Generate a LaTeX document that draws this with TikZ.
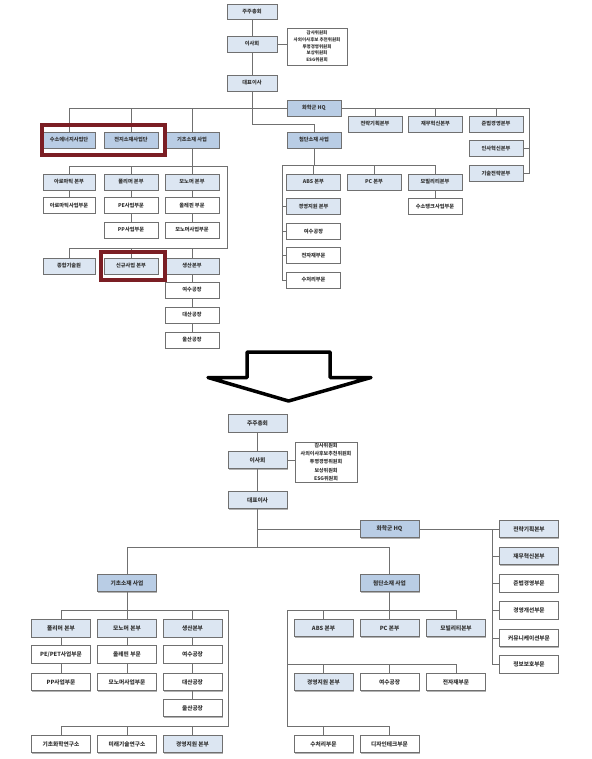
\documentclass[tikz,border=0pt]{standalone}
\usepackage{fontspec}
\newfontfamily\kr{Noto Sans CJK KR}
\usetikzlibrary{shadows}
\definecolor{lb}{HTML}{DCE6F2}
\definecolor{db}{HTML}{B9CDE5}
\definecolor{bd}{HTML}{707070}
\definecolor{ln}{HTML}{707070}
\definecolor{rf}{HTML}{7B1E24}
\begin{document}
\begin{tikzpicture}[x=1pt,y=-1pt,
  box/.style={draw=bd, line width=0.6pt, inner sep=0pt, minimum width=54pt, minimum height=16pt,
    align=center, font=\kr\bfseries\fontsize{5.2}{6}\selectfont, text=black!80,
    drop shadow={shadow xshift=0.8pt, shadow yshift=-0.8pt, fill=black!30, opacity=1}},
  lbox/.style={box, fill=lb},
  dbox/.style={box, fill=db},
  wbox/.style={box, fill=white},
  bigb/.style={minimum width=59pt, minimum height=17.5pt, font=\kr\bfseries\fontsize{5.7}{6.5}\selectfont},
  conn/.style={draw=ln, line width=0.7pt},
  redframe/.style={draw=rf, line width=3.8pt}]
\fill[white] (0,0) rectangle (591,759);
\useasboundingbox (0,0) rectangle (591,759);

% ================= TOP (before) =================
\node[lbox, minimum width=50pt, minimum height=15pt] (T_agm) at (252,11.5) {주주총회};
\node[lbox, minimum width=50pt] (T_board) at (252,44) {이사회};
\node[wbox, minimum width=60pt, minimum height=37pt, font=\kr\bfseries\fontsize{4.5}{6.7}\selectfont] (T_comm) at (317,46.5)
  {감사위원회\\사외이사후보 추천위원회\\투명경영위원회\\보상위원회\\ESG위원회};
\node[lbox, minimum width=50pt] (T_ceo) at (252,83) {대표이사};
\node[dbox] (T_hq) at (314,108) {화학군 HQ};
\node[dbox, minimum width=52pt] (T_h1) at (69,140) {수소에너지사업단};
\node[dbox] (T_h2) at (131,140) {전지소재사업단};
\node[dbox] (T_base) at (192,140) {기초소재 사업};
\node[dbox] (T_adv) at (314,140) {첨단소재 사업};
\node[lbox] (T_s1) at (375,124) {전략기획본부};
\node[lbox] (T_s2) at (435.5,124) {재무혁신본부};
\node[lbox] (T_s3) at (496,124) {준법경영본부};
\node[lbox] (T_s4) at (496,148.5) {인사혁신본부};
\node[lbox] (T_s5) at (496,173.5) {기술전략본부};

\node[lbox, minimum width=52pt] (T_a1) at (69,182) {아로마틱 본부};
\node[lbox] (T_a2) at (131,182) {폴리머 본부};
\node[lbox] (T_a3) at (192,182) {모노머 본부};
\node[wbox, minimum width=52pt] (T_b1) at (69,205.5) {아로마틱사업부문};
\node[wbox] (T_b2) at (131,205.5) {PE사업부문};
\node[wbox] (T_b3) at (192,205.5) {올레핀 부문};
\node[wbox] (T_c2) at (131,230) {PP사업부문};
\node[wbox] (T_c3) at (192,230) {모노머사업부문};
\node[lbox, minimum width=52pt] (T_d1) at (69,266) {종합기술원};
\node[lbox] (T_d2) at (131,266) {신규사업 본부};
\node[lbox] (T_d3) at (192,266) {생산본부};
\node[wbox] (T_p1) at (192,290) {여수공장};
\node[wbox] (T_p2) at (192,315) {대산공장};
\node[wbox] (T_p3) at (192,340) {울산공장};

\node[lbox] (T_e1) at (313.5,182) {ABS 본부};
\node[lbox] (T_e2) at (374,182) {PC 본부};
\node[lbox] (T_e3) at (435,182) {모빌리티본부};
\node[wbox] (T_e4) at (435,206.5) {수소탱크사업부문};
\node[lbox] (T_f1) at (313.5,206.5) {경영지원 본부};
\node[wbox] (T_f2) at (313.5,231.5) {여수공장};
\node[wbox] (T_f3) at (313.5,255.5) {전자재부문};
\node[wbox] (T_f4) at (313.5,280) {수처리부문};

% top connectors
\draw[conn] (T_agm.south) -- (T_board.north);
\draw[conn] (T_board.south) -- (T_ceo.north);
\draw[conn] (T_board.east) -- (T_board.east -| T_comm.west);
\coordinate (tA) at (252,124);
\draw[conn] (T_ceo.south) -- (tA) -| (T_adv.north);
\draw[conn] (T_h1.north) |- (T_hq.west);
\draw[conn] (T_h2.north) -- (T_h2.north |- T_hq.west);
\draw[conn] (T_base.north) -- (T_base.north |- T_hq.west);
\coordinate (tR) at (529,108);
\draw[conn] (T_hq.east) -- (tR) |- (T_s5.east);
\draw[conn] (T_s4.east) -- (T_s4.east -| tR);
\foreach \n in {T_s1,T_s2,T_s3} \draw[conn] (\n.north) -- (\n.north |- tR);

\coordinate (bL) at (69,166); \coordinate (bR) at (227,166);
\coordinate (bL2) at (69,248); \coordinate (bR2) at (227,248);
\draw[conn] (T_base.south) -- (T_base.south |- bL);
\draw[conn] (T_a1.north) -- (bL) -- (bR) -- (bR2) -- (bL2) -- (T_d1.north);
\foreach \n in {T_a2,T_a3} \draw[conn] (\n.north) -- (\n.north |- bL);
\foreach \n in {T_d2,T_d3} \draw[conn] (\n.north) -- (\n.north |- bL2);
\draw[conn] (T_a1) -- (T_b1);
\draw[conn] (T_a2) -- (T_b2); \draw[conn] (T_b2) -- (T_c2);
\draw[conn] (T_a3) -- (T_b3); \draw[conn] (T_b3) -- (T_c3);
\draw[conn] (T_d3) -- (T_p1); \draw[conn] (T_p1) -- (T_p2); \draw[conn] (T_p2) -- (T_p3);

\coordinate (aL) at (282,165); \coordinate (aR) at (435,165);
\draw[conn] (T_adv.south) -- (T_adv.south |- aL);
\draw[conn] (T_f4.west) -| (aL) -- (aR) -- (T_e3.north);
\foreach \n in {T_e1,T_e2} \draw[conn] (\n.north) -- (\n.north |- aL);
\foreach \n in {T_f1,T_f2,T_f3} \draw[conn] (\n.west) -- (\n.west -| aL);
\draw[conn] (T_e3) -- (T_e4);

% red frames
\draw[redframe] (42,125) rectangle (165,155);
\draw[redframe] (101,252) rectangle (165,280);

% ================= ARROW =================
\draw[line width=3.5pt, line join=round, fill=white]
  (247,352) -- (330,352) -- (330,377.5) -- (371,377.5) -- (288.5,401) -- (208,377.5) -- (247,377.5) -- cycle;

% ================= BOTTOM (after) =================
\node[lbox,bigb] (B_agm) at (257.5,423.5) {주주총회};
\node[lbox,bigb] (B_board) at (257.5,460) {이사회};
\node[wbox, minimum width=62pt, minimum height=40pt, font=\kr\bfseries\fontsize{5}{8.2}\selectfont] (B_comm) at (326,462)
  {감사위원회\\사외이사후보추천위원회\\투명경영위원회\\보상위원회\\ESG위원회};
\node[lbox,bigb] (B_ceo) at (257.5,500) {대표이사};
\node[dbox,bigb] (B_hq) at (389.5,529) {화학군 HQ};
\node[lbox,bigb] (B_s1) at (529,529) {전략기획본부};
\node[lbox,bigb] (B_s2) at (529,556) {재무혁신본부};
\node[wbox,bigb] (B_s3) at (529,583.5) {준법경영부문};
\node[wbox,bigb] (B_s4) at (529,610.5) {경영개선부문};
\node[wbox,bigb] (B_s5) at (529,638) {커뮤니케이션부문};
\node[wbox,bigb] (B_s6) at (529,664.5) {정보보호부문};
\node[dbox,bigb] (B_base) at (127,583) {기초소재 사업};
\node[dbox,bigb] (B_adv) at (389.5,583) {첨단소재 사업};

\node[lbox,bigb] (B_a1) at (61,628.5) {폴리머 본부};
\node[lbox,bigb] (B_a2) at (127,628.5) {모노머 본부};
\node[lbox,bigb] (B_a3) at (192.5,628.5) {생산본부};
\node[wbox,bigb] (B_b1) at (61,654.5) {PE/PET사업부문};
\node[wbox,bigb] (B_b2) at (127,654.5) {올레핀 부문};
\node[wbox,bigb] (B_b3) at (192.5,654.5) {여수공장};
\node[wbox,bigb] (B_c1) at (61,682) {PP사업부문};
\node[wbox,bigb] (B_c2) at (127,682) {모노머사업부문};
\node[wbox,bigb] (B_c3) at (192.5,682) {대산공장};
\node[wbox,bigb] (B_d3) at (192.5,708) {울산공장};
\node[wbox,bigb] (B_e1) at (61,744) {기초화학연구소};
\node[wbox,bigb] (B_e2) at (127,744) {미래기술연구소};
\node[lbox,bigb] (B_e3) at (192.5,744) {경영지원 본부};

\node[lbox,bigb] (B_f1) at (323.5,628) {ABS 본부};
\node[lbox,bigb] (B_f2) at (389.5,628) {PC 본부};
\node[lbox,bigb] (B_f3) at (456,628) {모빌리티본부};
\node[lbox,bigb] (B_g1) at (323.5,682) {경영지원 본부};
\node[wbox,bigb] (B_g2) at (389.5,682) {여수공장};
\node[wbox,bigb] (B_g3) at (456,682) {전자재부문};
\node[wbox,bigb] (B_h1) at (323.5,744) {수처리부문};
\node[wbox,bigb] (B_h2) at (389.5,744) {디자인테크부문};

% bottom connectors
\draw[conn] (B_agm.south) -- (B_board.north);
\draw[conn] (B_board.south) -- (B_ceo.north);
\draw[conn] (B_board.east) -- (B_board.east -| B_comm.west);
\coordinate (bA) at (257.5,547);
\draw[conn] (B_ceo.south) -- (bA);
\draw[conn] (B_ceo.south |- B_hq.west) -- (B_hq.west);
\draw[conn] (B_hq.east) -- (B_s1.west);
\coordinate (bX) at (492,529);
\draw[conn] (bX) |- (B_s6.west);
\foreach \n in {B_s2,B_s3,B_s4,B_s5} \draw[conn] (\n.west) -- (\n.west -| bX);
\draw[conn] (B_base.north) |- (B_adv.north |- bA) -- (B_adv.north);

\coordinate (cL) at (61,610); \coordinate (cR) at (228,610);
\coordinate (cL2) at (61,726); \coordinate (cR2) at (228,726);
\draw[conn] (B_base.south) -- (B_base.south |- cL);
\draw[conn] (B_a1.north) -- (cL) -- (cR) -- (cR2) -- (cL2) -- (B_e1.north);
\foreach \n in {B_a2,B_a3} \draw[conn] (\n.north) -- (\n.north |- cL);
\foreach \n in {B_e2,B_e3} \draw[conn] (\n.north) -- (\n.north |- cL2);
\draw[conn] (B_a1) -- (B_b1); \draw[conn] (B_b1) -- (B_c1);
\draw[conn] (B_a2) -- (B_b2); \draw[conn] (B_b2) -- (B_c2);
\draw[conn] (B_a3) -- (B_b3); \draw[conn] (B_b3) -- (B_c3); \draw[conn] (B_c3) -- (B_d3);

\coordinate (dL) at (287,610); \coordinate (dR) at (456,610);
\coordinate (dM) at (287,664); \coordinate (dL3) at (287,726);
\draw[conn] (B_adv.south) -- (B_adv.south |- dL);
\draw[conn] (B_f3.north) -- (dR) -- (dL) -- (dL3) -| (B_h2.north);
\foreach \n in {B_f1,B_f2} \draw[conn] (\n.north) -- (\n.north |- dL);
\draw[conn] (dM) -| (B_g3.north);
\foreach \n in {B_g1,B_g2} \draw[conn] (\n.north) -- (\n.north |- dM);
\draw[conn] (B_h1.north) -- (B_h1.north |- dL3);
\end{tikzpicture}
\end{document}
